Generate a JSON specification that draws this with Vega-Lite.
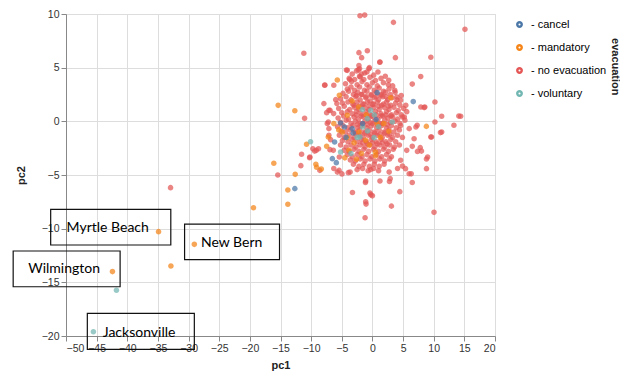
{
"$schema":"https://vega.github.io/schema/vega-lite/v6.json",
"width":429,"height":322,
"padding":{"left":12,"top":8,"right":0,"bottom":2},
"title":{"text":"evacuation","orient":"right","anchor":"start","fontSize":11,"fontWeight":"bold","color":"#222","offset":-2,"dx":30},
"config":{"font":"Liberation Sans","axis":{"labelFontSize":10.5,"titleFontSize":11,"tickSize":5,"labelColor":"#333","titleColor":"#222","domainColor":"#888","tickColor":"#888"},"axisY":{"titlePadding":15},"axisX":{"titlePadding":6}},
"layer":[
{"data":{"values":[
{"pc1":-32.94,"pc2":-6.18,"evacuation":"no evacuation"},
{"pc1":-11.19,"pc2":6.34,"evacuation":"no evacuation"},
{"pc1":-11.07,"pc2":0.28,"evacuation":"no evacuation"},
{"pc1":-11.56,"pc2":-3.07,"evacuation":"no evacuation"},
{"pc1":-10.25,"pc2":-3.39,"evacuation":"no evacuation"},
{"pc1":-11.68,"pc2":-4.13,"evacuation":"no evacuation"},
{"pc1":-15.44,"pc2":-5.0,"evacuation":"no evacuation"},
{"pc1":-7.75,"pc2":3.38,"evacuation":"no evacuation"},
{"pc1":-9.16,"pc2":-2.7,"evacuation":"no evacuation"},
{"pc1":-7.37,"pc2":-0.21,"evacuation":"no evacuation"},
{"pc1":-7.1,"pc2":1.03,"evacuation":"no evacuation"},
{"pc1":-6.93,"pc2":-2.64,"evacuation":"no evacuation"},
{"pc1":-6.82,"pc2":-1.71,"evacuation":"no evacuation"},
{"pc1":-9.42,"pc2":-2.77,"evacuation":"no evacuation"},
{"pc1":-5.44,"pc2":-4.57,"evacuation":"no evacuation"},
{"pc1":-3.64,"pc2":-4.73,"evacuation":"no evacuation"},
{"pc1":-1.14,"pc2":-5.7,"evacuation":"no evacuation"},
{"pc1":2.78,"pc2":-5.6,"evacuation":"no evacuation"},
{"pc1":-3.26,"pc2":-6.63,"evacuation":"no evacuation"},
{"pc1":-0.26,"pc2":-6.85,"evacuation":"no evacuation"},
{"pc1":0.0,"pc2":-6.94,"evacuation":"no evacuation"},
{"pc1":4.47,"pc2":-6.55,"evacuation":"no evacuation"},
{"pc1":-1.04,"pc2":-7.71,"evacuation":"no evacuation"},
{"pc1":3.1,"pc2":-7.9,"evacuation":"no evacuation"},
{"pc1":-1.2,"pc2":-8.98,"evacuation":"no evacuation"},
{"pc1":10.05,"pc2":-8.48,"evacuation":"no evacuation"},
{"pc1":6.5,"pc2":-5.7,"evacuation":"no evacuation"},
{"pc1":6.33,"pc2":-4.89,"evacuation":"no evacuation"},
{"pc1":8.82,"pc2":-3.51,"evacuation":"no evacuation"},
{"pc1":8.0,"pc2":-2.77,"evacuation":"no evacuation"},
{"pc1":9.64,"pc2":-1.46,"evacuation":"no evacuation"},
{"pc1":11.1,"pc2":-1.05,"evacuation":"no evacuation"},
{"pc1":13.3,"pc2":-0.37,"evacuation":"no evacuation"},
{"pc1":14.1,"pc2":0.49,"evacuation":"no evacuation"},
{"pc1":11.3,"pc2":0.47,"evacuation":"no evacuation"},
{"pc1":10.2,"pc2":-0.06,"evacuation":"no evacuation"},
{"pc1":10.2,"pc2":1.8,"evacuation":"no evacuation"},
{"pc1":8.55,"pc2":1.33,"evacuation":"no evacuation"},
{"pc1":7.3,"pc2":-0.37,"evacuation":"no evacuation"},
{"pc1":-2.03,"pc2":9.84,"evacuation":"no evacuation"},
{"pc1":-1.26,"pc2":9.9,"evacuation":"no evacuation"},
{"pc1":3.43,"pc2":9.22,"evacuation":"no evacuation"},
{"pc1":15.1,"pc2":8.57,"evacuation":"no evacuation"},
{"pc1":-2.2,"pc2":6.4,"evacuation":"no evacuation"},
{"pc1":-0.83,"pc2":6.58,"evacuation":"no evacuation"},
{"pc1":-1.76,"pc2":5.93,"evacuation":"no evacuation"},
{"pc1":1.23,"pc2":5.53,"evacuation":"no evacuation"},
{"pc1":3.75,"pc2":5.93,"evacuation":"no evacuation"},
{"pc1":9.53,"pc2":5.97,"evacuation":"no evacuation"},
{"pc1":-4.24,"pc2":4.78,"evacuation":"no evacuation"},
{"pc1":-2.1,"pc2":4.9,"evacuation":"no evacuation"},
{"pc1":-0.57,"pc2":4.9,"evacuation":"no evacuation"},
{"pc1":-1.27,"pc2":4.5,"evacuation":"no evacuation"},
{"pc1":-7.8,"pc2":3.36,"evacuation":"no evacuation"},
{"pc1":6.5,"pc2":3.47,"evacuation":"no evacuation"},
{"pc1":7.88,"pc2":4.17,"evacuation":"no evacuation"},
{"pc1":-5.99,"pc2":2.02,"evacuation":"no evacuation"},
{"pc1":-6.33,"pc2":0.72,"evacuation":"no evacuation"},
{"pc1":-5.4,"pc2":-3.32,"evacuation":"no evacuation"},
{"pc1":-8.8,"pc2":-2.55,"evacuation":"no evacuation"},
{"pc1":-5.72,"pc2":-4.73,"evacuation":"no evacuation"},
{"pc1":-3.93,"pc2":-4.78,"evacuation":"no evacuation"},
{"pc1":-0.28,"pc2":-4.5,"evacuation":"no evacuation"},
{"pc1":2.73,"pc2":-4.73,"evacuation":"no evacuation"},
{"pc1":4.9,"pc2":-4.17,"evacuation":"no evacuation"},
{"pc1":5.99,"pc2":-4.88,"evacuation":"no evacuation"},
{"pc1":7.35,"pc2":-2.8,"evacuation":"no evacuation"},
{"pc1":9.0,"pc2":-3.32,"evacuation":"no evacuation"},
{"pc1":9.53,"pc2":-1.46,"evacuation":"no evacuation"},
{"pc1":11.3,"pc2":-1.0,"evacuation":"no evacuation"},
{"pc1":8.43,"pc2":1.28,"evacuation":"no evacuation"},
{"pc1":7.9,"pc2":1.33,"evacuation":"no evacuation"},
{"pc1":14.4,"pc2":0.47,"evacuation":"no evacuation"},
{"pc1":6.5,"pc2":-2.33,"evacuation":"no evacuation"},
{"pc1":7.8,"pc2":-2.45,"evacuation":"no evacuation"},
{"pc1":8.82,"pc2":-4.41,"evacuation":"no evacuation"},
{"pc1":5.4,"pc2":-4.41,"evacuation":"no evacuation"},
{"pc1":4.1,"pc2":-4.4,"evacuation":"no evacuation"},
{"pc1":2.9,"pc2":-5.34,"evacuation":"no evacuation"},
{"pc1":1.23,"pc2":-5.56,"evacuation":"no evacuation"},
{"pc1":-1.1,"pc2":-5.56,"evacuation":"no evacuation"},
{"pc1":-0.4,"pc2":-6.68,"evacuation":"no evacuation"},
{"pc1":-1.1,"pc2":-7.5,"evacuation":"no evacuation"},
{"pc1":-8.58,"pc2":-4.57,"evacuation":"no evacuation"},
{"pc1":-6.3,"pc2":-4.4,"evacuation":"no evacuation"},
{"pc1":-4.97,"pc2":-4.9,"evacuation":"no evacuation"},
{"pc1":-7.92,"pc2":1.65,"evacuation":"no evacuation"},
{"pc1":-7.47,"pc2":0.81,"evacuation":"no evacuation"},
{"pc1":-7.2,"pc2":-0.06,"evacuation":"no evacuation"},
{"pc1":-7.1,"pc2":-0.68,"evacuation":"no evacuation"},
{"pc1":-9.72,"pc2":-2.55,"evacuation":"no evacuation"},
{"pc1":-10.2,"pc2":-3.32,"evacuation":"no evacuation"},
{"pc1":-7.1,"pc2":-1.3,"evacuation":"no evacuation"},
{"pc1":-6.38,"pc2":-2.7,"evacuation":"no evacuation"},
{"pc1":-4.1,"pc2":4.75,"evacuation":"no evacuation"},
{"pc1":-2.3,"pc2":4.8,"evacuation":"no evacuation"},
{"pc1":-2.0,"pc2":4.13,"evacuation":"no evacuation"},
{"pc1":-0.5,"pc2":5.0,"evacuation":"no evacuation"},
{"pc1":1.2,"pc2":5.5,"evacuation":"no evacuation"},
{"pc1":-3.7,"pc2":3.9,"evacuation":"no evacuation"},
{"pc1":-6.3,"pc2":3.36,"evacuation":"no evacuation"},
{"pc1":-5.8,"pc2":1.65,"evacuation":"no evacuation"},
{"pc1":-6.9,"pc2":1.02,"evacuation":"no evacuation"},
{"pc1":2.66,"pc2":3.82,"evacuation":"no evacuation"},
{"pc1":3.64,"pc2":2.9,"evacuation":"no evacuation"},
{"pc1":4.0,"pc2":2.26,"evacuation":"no evacuation"},
{"pc1":4.6,"pc2":1.96,"evacuation":"no evacuation"},
{"pc1":5.45,"pc2":1.49,"evacuation":"no evacuation"},
{"pc1":5.2,"pc2":0.4,"evacuation":"no evacuation"},
{"pc1":6.0,"pc2":-0.68,"evacuation":"no evacuation"},
{"pc1":7.1,"pc2":-0.53,"evacuation":"no evacuation"},
{"pc1":6.8,"pc2":-1.62,"evacuation":"no evacuation"},
{"pc1":5.6,"pc2":-2.7,"evacuation":"no evacuation"},
{"pc1":4.6,"pc2":-3.63,"evacuation":"no evacuation"},
{"pc1":-3.3,"pc2":4.4,"evacuation":"no evacuation"},
{"pc1":-2.6,"pc2":4.7,"evacuation":"no evacuation"},
{"pc1":-1.8,"pc2":4.4,"evacuation":"no evacuation"},
{"pc1":-0.9,"pc2":4.6,"evacuation":"no evacuation"},
{"pc1":0.2,"pc2":4.3,"evacuation":"no evacuation"},
{"pc1":-2.2,"pc2":5.2,"evacuation":"no evacuation"},
{"pc1":-3.8,"pc2":4.0,"evacuation":"no evacuation"},
{"pc1":-2.9,"pc2":3.9,"evacuation":"no evacuation"},
{"pc1":-2.1,"pc2":4.2,"evacuation":"no evacuation"},
{"pc1":-1.4,"pc2":3.9,"evacuation":"no evacuation"},
{"pc1":-0.4,"pc2":4.1,"evacuation":"no evacuation"},
{"pc1":0.5,"pc2":3.8,"evacuation":"no evacuation"},
{"pc1":1.4,"pc2":4.0,"evacuation":"no evacuation"},
{"pc1":0.9,"pc2":4.6,"evacuation":"no evacuation"},
{"pc1":-4.4,"pc2":3.5,"evacuation":"no evacuation"},
{"pc1":-3.4,"pc2":3.7,"evacuation":"no evacuation"},
{"pc1":-2.5,"pc2":3.4,"evacuation":"no evacuation"},
{"pc1":-1.7,"pc2":3.7,"evacuation":"no evacuation"},
{"pc1":-0.9,"pc2":3.4,"evacuation":"no evacuation"},
{"pc1":0.0,"pc2":3.6,"evacuation":"no evacuation"},
{"pc1":0.8,"pc2":3.3,"evacuation":"no evacuation"},
{"pc1":1.8,"pc2":3.6,"evacuation":"no evacuation"},
{"pc1":2.6,"pc2":3.4,"evacuation":"no evacuation"},
{"pc1":2.1,"pc2":4.2,"evacuation":"no evacuation"},
{"pc1":-4.1,"pc2":3.0,"evacuation":"no evacuation"},
{"pc1":-3.5,"pc2":3.2,"evacuation":"no evacuation"},
{"pc1":-2.9,"pc2":2.9,"evacuation":"no evacuation"},
{"pc1":-2.1,"pc2":3.2,"evacuation":"no evacuation"},
{"pc1":-1.3,"pc2":2.9,"evacuation":"no evacuation"},
{"pc1":-0.5,"pc2":3.2,"evacuation":"no evacuation"},
{"pc1":0.3,"pc2":2.9,"evacuation":"no evacuation"},
{"pc1":1.1,"pc2":3.1,"evacuation":"no evacuation"},
{"pc1":1.8,"pc2":2.8,"evacuation":"no evacuation"},
{"pc1":2.7,"pc2":3.0,"evacuation":"no evacuation"},
{"pc1":3.3,"pc2":3.3,"evacuation":"no evacuation"},
{"pc1":-4.8,"pc2":2.6,"evacuation":"no evacuation"},
{"pc1":-3.9,"pc2":2.8,"evacuation":"no evacuation"},
{"pc1":-3.1,"pc2":2.5,"evacuation":"no evacuation"},
{"pc1":-2.4,"pc2":2.7,"evacuation":"no evacuation"},
{"pc1":-1.7,"pc2":2.5,"evacuation":"no evacuation"},
{"pc1":-0.9,"pc2":2.8,"evacuation":"no evacuation"},
{"pc1":-0.2,"pc2":2.5,"evacuation":"no evacuation"},
{"pc1":0.6,"pc2":2.7,"evacuation":"no evacuation"},
{"pc1":1.4,"pc2":2.4,"evacuation":"no evacuation"},
{"pc1":2.1,"pc2":2.7,"evacuation":"no evacuation"},
{"pc1":2.9,"pc2":2.5,"evacuation":"no evacuation"},
{"pc1":3.7,"pc2":2.7,"evacuation":"no evacuation"},
{"pc1":-5.2,"pc2":2.1,"evacuation":"no evacuation"},
{"pc1":-4.3,"pc2":2.3,"evacuation":"no evacuation"},
{"pc1":-3.5,"pc2":2.0,"evacuation":"no evacuation"},
{"pc1":-2.7,"pc2":2.3,"evacuation":"no evacuation"},
{"pc1":-2.0,"pc2":2.0,"evacuation":"no evacuation"},
{"pc1":-1.1,"pc2":2.2,"evacuation":"no evacuation"},
{"pc1":-0.4,"pc2":1.9,"evacuation":"no evacuation"},
{"pc1":0.3,"pc2":2.2,"evacuation":"no evacuation"},
{"pc1":1.0,"pc2":2.0,"evacuation":"no evacuation"},
{"pc1":1.7,"pc2":2.3,"evacuation":"no evacuation"},
{"pc1":2.5,"pc2":2.0,"evacuation":"no evacuation"},
{"pc1":3.2,"pc2":2.2,"evacuation":"no evacuation"},
{"pc1":4.0,"pc2":2.0,"evacuation":"no evacuation"},
{"pc1":4.7,"pc2":2.4,"evacuation":"no evacuation"},
{"pc1":-4.9,"pc2":1.7,"evacuation":"no evacuation"},
{"pc1":-4.0,"pc2":1.8,"evacuation":"no evacuation"},
{"pc1":-3.2,"pc2":1.6,"evacuation":"no evacuation"},
{"pc1":-2.5,"pc2":1.8,"evacuation":"no evacuation"},
{"pc1":-1.6,"pc2":1.6,"evacuation":"no evacuation"},
{"pc1":-0.8,"pc2":1.8,"evacuation":"no evacuation"},
{"pc1":0.0,"pc2":1.6,"evacuation":"no evacuation"},
{"pc1":0.8,"pc2":1.8,"evacuation":"no evacuation"},
{"pc1":1.5,"pc2":1.5,"evacuation":"no evacuation"},
{"pc1":2.3,"pc2":1.8,"evacuation":"no evacuation"},
{"pc1":3.0,"pc2":1.5,"evacuation":"no evacuation"},
{"pc1":3.8,"pc2":1.7,"evacuation":"no evacuation"},
{"pc1":4.5,"pc2":1.5,"evacuation":"no evacuation"},
{"pc1":-5.5,"pc2":1.2,"evacuation":"no evacuation"},
{"pc1":-4.6,"pc2":1.4,"evacuation":"no evacuation"},
{"pc1":-3.7,"pc2":1.1,"evacuation":"no evacuation"},
{"pc1":-2.9,"pc2":1.3,"evacuation":"no evacuation"},
{"pc1":-2.2,"pc2":1.1,"evacuation":"no evacuation"},
{"pc1":-1.4,"pc2":1.3,"evacuation":"no evacuation"},
{"pc1":-0.6,"pc2":1.1,"evacuation":"no evacuation"},
{"pc1":0.2,"pc2":1.3,"evacuation":"no evacuation"},
{"pc1":1.1,"pc2":1.1,"evacuation":"no evacuation"},
{"pc1":1.9,"pc2":1.3,"evacuation":"no evacuation"},
{"pc1":2.7,"pc2":1.1,"evacuation":"no evacuation"},
{"pc1":3.5,"pc2":1.3,"evacuation":"no evacuation"},
{"pc1":4.2,"pc2":1.0,"evacuation":"no evacuation"},
{"pc1":5.1,"pc2":1.2,"evacuation":"no evacuation"},
{"pc1":-5.0,"pc2":0.8,"evacuation":"no evacuation"},
{"pc1":-4.1,"pc2":0.9,"evacuation":"no evacuation"},
{"pc1":-3.3,"pc2":0.7,"evacuation":"no evacuation"},
{"pc1":-2.6,"pc2":0.9,"evacuation":"no evacuation"},
{"pc1":-1.8,"pc2":0.7,"evacuation":"no evacuation"},
{"pc1":-1.0,"pc2":0.9,"evacuation":"no evacuation"},
{"pc1":-0.3,"pc2":0.6,"evacuation":"no evacuation"},
{"pc1":0.5,"pc2":0.9,"evacuation":"no evacuation"},
{"pc1":1.4,"pc2":0.7,"evacuation":"no evacuation"},
{"pc1":2.3,"pc2":0.9,"evacuation":"no evacuation"},
{"pc1":3.1,"pc2":0.6,"evacuation":"no evacuation"},
{"pc1":3.9,"pc2":0.8,"evacuation":"no evacuation"},
{"pc1":4.7,"pc2":0.6,"evacuation":"no evacuation"},
{"pc1":5.6,"pc2":0.9,"evacuation":"no evacuation"},
{"pc1":-5.6,"pc2":0.3,"evacuation":"no evacuation"},
{"pc1":-4.7,"pc2":0.5,"evacuation":"no evacuation"},
{"pc1":-3.9,"pc2":0.2,"evacuation":"no evacuation"},
{"pc1":-3.0,"pc2":0.4,"evacuation":"no evacuation"},
{"pc1":-2.3,"pc2":0.2,"evacuation":"no evacuation"},
{"pc1":-1.5,"pc2":0.4,"evacuation":"no evacuation"},
{"pc1":-0.7,"pc2":0.2,"evacuation":"no evacuation"},
{"pc1":0.1,"pc2":0.4,"evacuation":"no evacuation"},
{"pc1":0.9,"pc2":0.2,"evacuation":"no evacuation"},
{"pc1":1.7,"pc2":0.5,"evacuation":"no evacuation"},
{"pc1":2.5,"pc2":0.3,"evacuation":"no evacuation"},
{"pc1":3.3,"pc2":0.4,"evacuation":"no evacuation"},
{"pc1":4.1,"pc2":0.2,"evacuation":"no evacuation"},
{"pc1":4.9,"pc2":0.4,"evacuation":"no evacuation"},
{"pc1":-5.2,"pc2":-0.1,"evacuation":"no evacuation"},
{"pc1":-4.3,"pc2":0.1,"evacuation":"no evacuation"},
{"pc1":-3.5,"pc2":-0.2,"evacuation":"no evacuation"},
{"pc1":-2.8,"pc2":0.0,"evacuation":"no evacuation"},
{"pc1":-2.0,"pc2":-0.2,"evacuation":"no evacuation"},
{"pc1":-1.2,"pc2":0.0,"evacuation":"no evacuation"},
{"pc1":-0.4,"pc2":-0.1,"evacuation":"no evacuation"},
{"pc1":0.4,"pc2":0.0,"evacuation":"no evacuation"},
{"pc1":1.2,"pc2":-0.2,"evacuation":"no evacuation"},
{"pc1":2.0,"pc2":0.1,"evacuation":"no evacuation"},
{"pc1":2.9,"pc2":-0.1,"evacuation":"no evacuation"},
{"pc1":3.7,"pc2":0.0,"evacuation":"no evacuation"},
{"pc1":4.5,"pc2":-0.2,"evacuation":"no evacuation"},
{"pc1":5.3,"pc2":0.1,"evacuation":"no evacuation"},
{"pc1":-5.7,"pc2":-0.5,"evacuation":"no evacuation"},
{"pc1":-4.8,"pc2":-0.4,"evacuation":"no evacuation"},
{"pc1":-4.0,"pc2":-0.6,"evacuation":"no evacuation"},
{"pc1":-3.2,"pc2":-0.4,"evacuation":"no evacuation"},
{"pc1":-2.4,"pc2":-0.6,"evacuation":"no evacuation"},
{"pc1":-1.7,"pc2":-0.4,"evacuation":"no evacuation"},
{"pc1":-0.9,"pc2":-0.6,"evacuation":"no evacuation"},
{"pc1":-0.1,"pc2":-0.4,"evacuation":"no evacuation"},
{"pc1":0.7,"pc2":-0.6,"evacuation":"no evacuation"},
{"pc1":1.5,"pc2":-0.4,"evacuation":"no evacuation"},
{"pc1":2.3,"pc2":-0.6,"evacuation":"no evacuation"},
{"pc1":3.1,"pc2":-0.4,"evacuation":"no evacuation"},
{"pc1":3.9,"pc2":-0.6,"evacuation":"no evacuation"},
{"pc1":4.6,"pc2":-0.4,"evacuation":"no evacuation"},
{"pc1":-5.1,"pc2":-0.9,"evacuation":"no evacuation"},
{"pc1":-4.4,"pc2":-1.0,"evacuation":"no evacuation"},
{"pc1":-3.6,"pc2":-0.8,"evacuation":"no evacuation"},
{"pc1":-2.8,"pc2":-1.0,"evacuation":"no evacuation"},
{"pc1":-2.1,"pc2":-0.8,"evacuation":"no evacuation"},
{"pc1":-1.3,"pc2":-1.0,"evacuation":"no evacuation"},
{"pc1":-0.5,"pc2":-0.8,"evacuation":"no evacuation"},
{"pc1":0.3,"pc2":-1.0,"evacuation":"no evacuation"},
{"pc1":1.1,"pc2":-0.8,"evacuation":"no evacuation"},
{"pc1":1.9,"pc2":-1.0,"evacuation":"no evacuation"},
{"pc1":2.7,"pc2":-0.8,"evacuation":"no evacuation"},
{"pc1":3.5,"pc2":-1.0,"evacuation":"no evacuation"},
{"pc1":4.4,"pc2":-0.8,"evacuation":"no evacuation"},
{"pc1":-5.4,"pc2":-1.3,"evacuation":"no evacuation"},
{"pc1":-4.6,"pc2":-1.5,"evacuation":"no evacuation"},
{"pc1":-3.8,"pc2":-1.3,"evacuation":"no evacuation"},
{"pc1":-3.0,"pc2":-1.5,"evacuation":"no evacuation"},
{"pc1":-2.2,"pc2":-1.3,"evacuation":"no evacuation"},
{"pc1":-1.5,"pc2":-1.5,"evacuation":"no evacuation"},
{"pc1":-0.7,"pc2":-1.3,"evacuation":"no evacuation"},
{"pc1":0.0,"pc2":-1.5,"evacuation":"no evacuation"},
{"pc1":0.8,"pc2":-1.3,"evacuation":"no evacuation"},
{"pc1":1.6,"pc2":-1.5,"evacuation":"no evacuation"},
{"pc1":2.5,"pc2":-1.3,"evacuation":"no evacuation"},
{"pc1":3.3,"pc2":-1.5,"evacuation":"no evacuation"},
{"pc1":4.1,"pc2":-1.3,"evacuation":"no evacuation"},
{"pc1":4.9,"pc2":-1.5,"evacuation":"no evacuation"},
{"pc1":-4.9,"pc2":-1.8,"evacuation":"no evacuation"},
{"pc1":-4.0,"pc2":-1.9,"evacuation":"no evacuation"},
{"pc1":-3.3,"pc2":-1.7,"evacuation":"no evacuation"},
{"pc1":-2.5,"pc2":-1.9,"evacuation":"no evacuation"},
{"pc1":-1.8,"pc2":-1.7,"evacuation":"no evacuation"},
{"pc1":-1.0,"pc2":-1.9,"evacuation":"no evacuation"},
{"pc1":-0.2,"pc2":-1.7,"evacuation":"no evacuation"},
{"pc1":0.6,"pc2":-1.9,"evacuation":"no evacuation"},
{"pc1":1.4,"pc2":-1.7,"evacuation":"no evacuation"},
{"pc1":2.2,"pc2":-1.9,"evacuation":"no evacuation"},
{"pc1":3.0,"pc2":-1.7,"evacuation":"no evacuation"},
{"pc1":3.8,"pc2":-1.9,"evacuation":"no evacuation"},
{"pc1":-5.2,"pc2":-2.2,"evacuation":"no evacuation"},
{"pc1":-4.3,"pc2":-2.4,"evacuation":"no evacuation"},
{"pc1":-3.5,"pc2":-2.2,"evacuation":"no evacuation"},
{"pc1":-2.7,"pc2":-2.4,"evacuation":"no evacuation"},
{"pc1":-2.0,"pc2":-2.2,"evacuation":"no evacuation"},
{"pc1":-1.2,"pc2":-2.4,"evacuation":"no evacuation"},
{"pc1":-0.4,"pc2":-2.2,"evacuation":"no evacuation"},
{"pc1":0.4,"pc2":-2.4,"evacuation":"no evacuation"},
{"pc1":1.2,"pc2":-2.2,"evacuation":"no evacuation"},
{"pc1":2.0,"pc2":-2.4,"evacuation":"no evacuation"},
{"pc1":2.8,"pc2":-2.2,"evacuation":"no evacuation"},
{"pc1":3.6,"pc2":-2.4,"evacuation":"no evacuation"},
{"pc1":4.4,"pc2":-2.2,"evacuation":"no evacuation"},
{"pc1":-4.6,"pc2":-2.7,"evacuation":"no evacuation"},
{"pc1":-3.8,"pc2":-2.8,"evacuation":"no evacuation"},
{"pc1":-3.0,"pc2":-2.6,"evacuation":"no evacuation"},
{"pc1":-2.2,"pc2":-2.8,"evacuation":"no evacuation"},
{"pc1":-1.4,"pc2":-2.6,"evacuation":"no evacuation"},
{"pc1":-0.6,"pc2":-2.8,"evacuation":"no evacuation"},
{"pc1":0.2,"pc2":-2.6,"evacuation":"no evacuation"},
{"pc1":1.0,"pc2":-2.8,"evacuation":"no evacuation"},
{"pc1":1.8,"pc2":-2.6,"evacuation":"no evacuation"},
{"pc1":2.6,"pc2":-2.8,"evacuation":"no evacuation"},
{"pc1":3.4,"pc2":-2.6,"evacuation":"no evacuation"},
{"pc1":-4.1,"pc2":-3.1,"evacuation":"no evacuation"},
{"pc1":-3.3,"pc2":-3.3,"evacuation":"no evacuation"},
{"pc1":-2.5,"pc2":-3.1,"evacuation":"no evacuation"},
{"pc1":-1.7,"pc2":-3.3,"evacuation":"no evacuation"},
{"pc1":-0.9,"pc2":-3.1,"evacuation":"no evacuation"},
{"pc1":-0.1,"pc2":-3.3,"evacuation":"no evacuation"},
{"pc1":0.7,"pc2":-3.1,"evacuation":"no evacuation"},
{"pc1":1.5,"pc2":-3.3,"evacuation":"no evacuation"},
{"pc1":2.3,"pc2":-3.1,"evacuation":"no evacuation"},
{"pc1":3.1,"pc2":-3.3,"evacuation":"no evacuation"},
{"pc1":-3.6,"pc2":-3.6,"evacuation":"no evacuation"},
{"pc1":-2.8,"pc2":-3.7,"evacuation":"no evacuation"},
{"pc1":-2.0,"pc2":-3.5,"evacuation":"no evacuation"},
{"pc1":-1.2,"pc2":-3.7,"evacuation":"no evacuation"},
{"pc1":-0.4,"pc2":-3.5,"evacuation":"no evacuation"},
{"pc1":0.4,"pc2":-3.7,"evacuation":"no evacuation"},
{"pc1":1.2,"pc2":-3.5,"evacuation":"no evacuation"},
{"pc1":2.0,"pc2":-3.7,"evacuation":"no evacuation"},
{"pc1":2.8,"pc2":-3.5,"evacuation":"no evacuation"},
{"pc1":-3.1,"pc2":-4.0,"evacuation":"no evacuation"},
{"pc1":-2.2,"pc2":-4.2,"evacuation":"no evacuation"},
{"pc1":-1.4,"pc2":-4.0,"evacuation":"no evacuation"},
{"pc1":-0.5,"pc2":-4.2,"evacuation":"no evacuation"},
{"pc1":0.3,"pc2":-4.0,"evacuation":"no evacuation"},
{"pc1":1.1,"pc2":-4.2,"evacuation":"no evacuation"},
{"pc1":1.9,"pc2":-4.0,"evacuation":"no evacuation"},
{"pc1":-2.5,"pc2":-4.5,"evacuation":"no evacuation"},
{"pc1":-1.6,"pc2":-4.4,"evacuation":"no evacuation"},
{"pc1":-0.7,"pc2":-4.6,"evacuation":"no evacuation"},
{"pc1":0.2,"pc2":-4.4,"evacuation":"no evacuation"},
{"pc1":1.0,"pc2":-4.6,"evacuation":"no evacuation"},
{"pc1":-2.6,"pc2":2.4,"evacuation":"no evacuation"},
{"pc1":-1.8,"pc2":2.5,"evacuation":"no evacuation"},
{"pc1":-1.0,"pc2":2.3,"evacuation":"no evacuation"},
{"pc1":-0.2,"pc2":2.4,"evacuation":"no evacuation"},
{"pc1":0.6,"pc2":2.3,"evacuation":"no evacuation"},
{"pc1":1.4,"pc2":2.5,"evacuation":"no evacuation"},
{"pc1":2.2,"pc2":2.3,"evacuation":"no evacuation"},
{"pc1":-3.0,"pc2":1.5,"evacuation":"no evacuation"},
{"pc1":-2.2,"pc2":1.4,"evacuation":"no evacuation"},
{"pc1":-1.4,"pc2":1.6,"evacuation":"no evacuation"},
{"pc1":-0.6,"pc2":1.4,"evacuation":"no evacuation"},
{"pc1":0.2,"pc2":1.6,"evacuation":"no evacuation"},
{"pc1":1.0,"pc2":1.4,"evacuation":"no evacuation"},
{"pc1":1.8,"pc2":1.6,"evacuation":"no evacuation"},
{"pc1":2.6,"pc2":1.4,"evacuation":"no evacuation"},
{"pc1":-2.6,"pc2":0.6,"evacuation":"no evacuation"},
{"pc1":-1.8,"pc2":0.5,"evacuation":"no evacuation"},
{"pc1":-1.0,"pc2":0.6,"evacuation":"no evacuation"},
{"pc1":-0.2,"pc2":0.5,"evacuation":"no evacuation"},
{"pc1":0.6,"pc2":0.6,"evacuation":"no evacuation"},
{"pc1":1.4,"pc2":0.5,"evacuation":"no evacuation"},
{"pc1":2.2,"pc2":0.6,"evacuation":"no evacuation"},
{"pc1":3.0,"pc2":0.5,"evacuation":"no evacuation"},
{"pc1":-2.4,"pc2":-0.3,"evacuation":"no evacuation"},
{"pc1":-1.6,"pc2":-0.2,"evacuation":"no evacuation"},
{"pc1":-0.8,"pc2":-0.3,"evacuation":"no evacuation"},
{"pc1":0.0,"pc2":-0.2,"evacuation":"no evacuation"},
{"pc1":0.8,"pc2":-0.3,"evacuation":"no evacuation"},
{"pc1":1.6,"pc2":-0.2,"evacuation":"no evacuation"},
{"pc1":2.4,"pc2":-0.3,"evacuation":"no evacuation"},
{"pc1":-2.8,"pc2":-1.1,"evacuation":"no evacuation"},
{"pc1":-2.0,"pc2":-1.2,"evacuation":"no evacuation"},
{"pc1":-1.2,"pc2":-1.1,"evacuation":"no evacuation"},
{"pc1":-0.4,"pc2":-1.2,"evacuation":"no evacuation"},
{"pc1":0.4,"pc2":-1.1,"evacuation":"no evacuation"},
{"pc1":1.2,"pc2":-1.2,"evacuation":"no evacuation"},
{"pc1":2.0,"pc2":-1.1,"evacuation":"no evacuation"},
{"pc1":2.8,"pc2":-1.2,"evacuation":"no evacuation"},
{"pc1":-1.6,"pc2":-2.0,"evacuation":"no evacuation"},
{"pc1":-0.8,"pc2":-2.1,"evacuation":"no evacuation"},
{"pc1":0.0,"pc2":-2.0,"evacuation":"no evacuation"},
{"pc1":0.8,"pc2":-2.1,"evacuation":"no evacuation"},
{"pc1":1.6,"pc2":-2.0,"evacuation":"no evacuation"},
{"pc1":2.4,"pc2":-2.1,"evacuation":"no evacuation"},
{"pc1":-34.9,"pc2":-10.28,"evacuation":"mandatory"},
{"pc1":-29.06,"pc2":-11.46,"evacuation":"mandatory"},
{"pc1":-32.88,"pc2":-13.48,"evacuation":"mandatory"},
{"pc1":-42.42,"pc2":-14.0,"evacuation":"mandatory"},
{"pc1":-19.41,"pc2":-8.05,"evacuation":"mandatory"},
{"pc1":-13.8,"pc2":-7.73,"evacuation":"mandatory"},
{"pc1":-13.8,"pc2":-6.4,"evacuation":"mandatory"},
{"pc1":-15.38,"pc2":1.49,"evacuation":"mandatory"},
{"pc1":-12.66,"pc2":0.99,"evacuation":"mandatory"},
{"pc1":-10.75,"pc2":-2.14,"evacuation":"mandatory"},
{"pc1":-16.09,"pc2":-3.91,"evacuation":"mandatory"},
{"pc1":-12.6,"pc2":-4.94,"evacuation":"mandatory"},
{"pc1":-9.11,"pc2":-4.28,"evacuation":"mandatory"},
{"pc1":-8.34,"pc2":-4.44,"evacuation":"mandatory"},
{"pc1":-9.23,"pc2":-4.0,"evacuation":"mandatory"},
{"pc1":-5.73,"pc2":3.85,"evacuation":"mandatory"},
{"pc1":-7.2,"pc2":-1.46,"evacuation":"mandatory"},
{"pc1":-7.47,"pc2":-2.33,"evacuation":"mandatory"},
{"pc1":-5.4,"pc2":2.42,"evacuation":"mandatory"},
{"pc1":-2.24,"pc2":1.33,"evacuation":"mandatory"},
{"pc1":-4.1,"pc2":0.56,"evacuation":"mandatory"},
{"pc1":-6.3,"pc2":-0.21,"evacuation":"mandatory"},
{"pc1":-4.09,"pc2":-1.52,"evacuation":"mandatory"},
{"pc1":-2.2,"pc2":-0.99,"evacuation":"mandatory"},
{"pc1":-1.1,"pc2":-1.77,"evacuation":"mandatory"},
{"pc1":0.77,"pc2":-0.21,"evacuation":"mandatory"},
{"pc1":1.86,"pc2":-0.21,"evacuation":"mandatory"},
{"pc1":2.68,"pc2":-0.93,"evacuation":"mandatory"},
{"pc1":-3.84,"pc2":-2.7,"evacuation":"mandatory"},
{"pc1":-2.6,"pc2":-3.53,"evacuation":"mandatory"},
{"pc1":0.49,"pc2":-2.86,"evacuation":"mandatory"},
{"pc1":8.8,"pc2":-0.47,"evacuation":"mandatory"},
{"pc1":2.98,"pc2":2.2,"evacuation":"mandatory"},
{"pc1":-3.3,"pc2":1.9,"evacuation":"mandatory"},
{"pc1":-1.0,"pc2":0.6,"evacuation":"mandatory"},
{"pc1":-4.9,"pc2":-1.0,"evacuation":"mandatory"},
{"pc1":-3.0,"pc2":-2.0,"evacuation":"mandatory"},
{"pc1":-0.5,"pc2":-2.2,"evacuation":"mandatory"},
{"pc1":1.3,"pc2":-1.5,"evacuation":"mandatory"},
{"pc1":-4.5,"pc2":-3.4,"evacuation":"mandatory"},
{"pc1":-1.8,"pc2":-3.0,"evacuation":"mandatory"},
{"pc1":-5.5,"pc2":-0.8,"evacuation":"mandatory"},
{"pc1":0.5,"pc2":-3.2,"evacuation":"mandatory"},
{"pc1":-41.77,"pc2":-15.74,"evacuation":"voluntary"},
{"pc1":-45.53,"pc2":-19.6,"evacuation":"voluntary"},
{"pc1":-10.1,"pc2":-1.9,"evacuation":"voluntary"},
{"pc1":-5.2,"pc2":-2.86,"evacuation":"voluntary"},
{"pc1":-1.65,"pc2":1.09,"evacuation":"voluntary"},
{"pc1":-0.29,"pc2":1.02,"evacuation":"voluntary"},
{"pc1":-0.83,"pc2":0.25,"evacuation":"voluntary"},
{"pc1":0.3,"pc2":0.6,"evacuation":"voluntary"},
{"pc1":-1.6,"pc2":-0.53,"evacuation":"voluntary"},
{"pc1":-2.04,"pc2":-1.46,"evacuation":"voluntary"},
{"pc1":0.27,"pc2":-1.52,"evacuation":"voluntary"},
{"pc1":3.24,"pc2":-0.06,"evacuation":"voluntary"},
{"pc1":-3.5,"pc2":-3.0,"evacuation":"voluntary"},
{"pc1":-0.8,"pc2":-0.9,"evacuation":"voluntary"},
{"pc1":1.0,"pc2":-0.5,"evacuation":"voluntary"},
{"pc1":-2.5,"pc2":-1.5,"evacuation":"voluntary"},
{"pc1":-12.66,"pc2":-6.27,"evacuation":"cancel"},
{"pc1":-6.54,"pc2":-3.48,"evacuation":"cancel"},
{"pc1":-5.89,"pc2":-3.85,"evacuation":"cancel"},
{"pc1":-6.17,"pc2":-1.93,"evacuation":"cancel"},
{"pc1":0.77,"pc2":2.67,"evacuation":"cancel"},
{"pc1":6.66,"pc2":1.84,"evacuation":"cancel"},
{"pc1":0.6,"pc2":0.16,"evacuation":"cancel"},
{"pc1":-5.2,"pc2":-0.16,"evacuation":"cancel"},
{"pc1":-4.55,"pc2":-0.53,"evacuation":"cancel"},
{"pc1":-3.3,"pc2":-0.68,"evacuation":"cancel"},
{"pc1":-3.14,"pc2":-1.09,"evacuation":"cancel"},
{"pc1":-1.6,"pc2":-0.21,"evacuation":"cancel"},
{"pc1":-4.3,"pc2":-1.5,"evacuation":"cancel"}
]},
"mark":{"type":"point","filled":false,"size":8,"strokeWidth":2.8,"opacity":0.72},
"encoding":{
"x":{"field":"pc1","type":"quantitative","scale":{"domain":[-50,20],"nice":false},"title":"pc1"},
"y":{"field":"pc2","type":"quantitative","scale":{"domain":[-20,10],"nice":false},"title":"pc2"},
"color":{"field":"evacuation","type":"nominal","legend":{"title":null,"orient":"right","labelFontSize":11,"labelExpr":"'- ' + datum.label","symbolSize":20,"symbolStrokeWidth":2.4,"symbolOpacity":1,"rowPadding":8,"labelOffset":6,"offset":14,"padding":5}}
}},
{"data":{"name":"notes","values":[
{"label":"Myrtle Beach","tx":-49.9,"ty":-10.28,"x1":-52.5,"x2":-32.9,"y1":-8.2,"y2":-11.52},
{"label":"New Bern","tx":-27.97,"ty":-11.74,"x1":-30.65,"x2":-15.16,"y1":-9.57,"y2":-12.89},
{"label":"Wilmington","tx":-56.17,"ty":-14.16,"x1":-58.62,"x2":-41.17,"y1":-12.08,"y2":-15.41},
{"label":"Jacksonville","tx":-44.0,"ty":-20.07,"x1":-46.52,"x2":-29.06,"y1":-17.89,"y2":-21.24}
]},
"mark":{"type":"rect","fillOpacity":0,"stroke":"#111","strokeWidth":1.2},
"encoding":{
"x":{"field":"x1","type":"quantitative","title":"pc1"},
"x2":{"field":"x2"},
"y":{"field":"y1","type":"quantitative","title":"pc2"},
"y2":{"field":"y2"}
}},
{"data":{"name":"notes"},
"mark":{"type":"text","align":"left","baseline":"alphabetic","font":"Lato","fontSize":14,"color":"#000"},
"encoding":{
"x":{"field":"tx","type":"quantitative","title":"pc1"},
"y":{"field":"ty","type":"quantitative","title":"pc2"},
"text":{"field":"label"}
}}
]
}
